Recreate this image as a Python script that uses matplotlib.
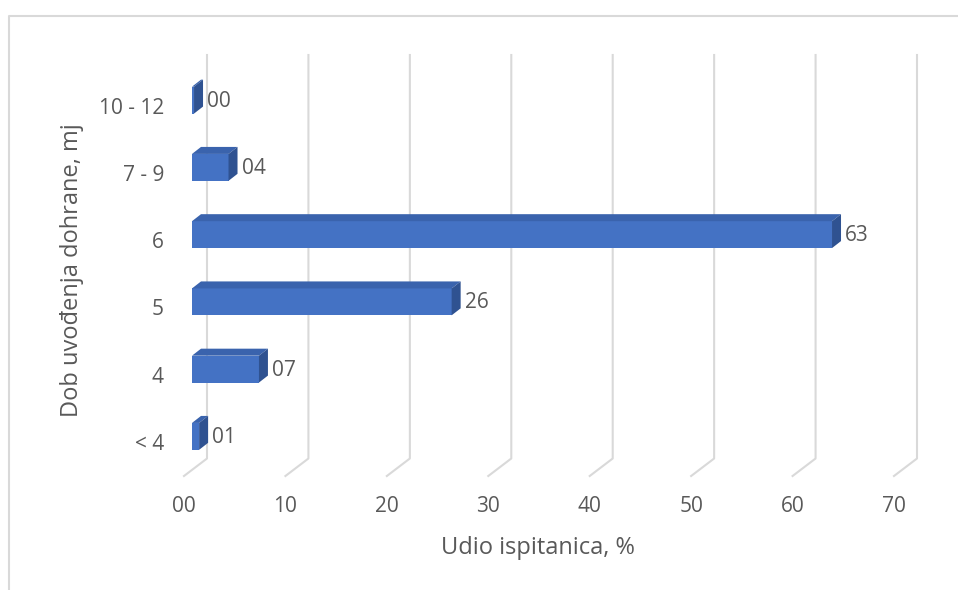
import matplotlib
matplotlib.use('Agg')
import matplotlib.pyplot as plt
from matplotlib.patches import Polygon
from matplotlib.transforms import IdentityTransform

# data
categories = ['< 4', '4', '5', '6', '7 - 9', '10 - 12']
values = [0.7, 6.6, 25.6, 63.1, 3.6, 0.2]
x_ticks = [0, 10, 20, 30, 40, 50, 60, 70]
x_title = 'Udio ispitanica, %'
y_title = 'Dob uvođenja dohrane, mj'

front_col = '#4472c4'
top_col = '#3a63ad'
side_col = '#2f5291'
grid_col = '#d9d9d9'
text_col = '#595959'

plt.rcParams['font.family'] = ['Open Sans', 'DejaVu Sans']

fig = plt.figure(figsize=(9.58, 5.90), dpi=100)
ax = fig.add_axes([192/958, 120/590, 710/958, 403.5/590])
ax.set_xlim(0, 70)
ax.set_ylim(-0.5, len(categories) - 0.5)
ax.axis('off')

ident = IdentityTransform()
# oblique offsets (display px) of the fake 3D depth
bar_d = (9, 7)
wall_d = (15, 11.5)
floor_d = (-8, -6)

def px(x, y, d=(0, 0)):
    p = ax.transData.transform((x, y))
    return (p[0] + d[0], p[1] + d[1])

# chart border (top and left only visible)
ax.plot([9, 9, 958], [0, 574, 574], color=grid_col, lw=1.5, transform=ident, clip_on=False)

y0, y1 = -0.5, len(categories) - 0.5
for v in x_ticks:
    f = px(v, y0, floor_d)
    b = px(v, y0, wall_d)
    t = px(v, y1, wall_d)
    ax.plot([f[0], b[0], t[0]], [f[1], b[1], t[1]], color=grid_col, lw=1.5,
            transform=ident, clip_on=False, zorder=1)
    ax.text(f[0], f[1] - 31, '%02d' % v, ha='center', va='center', fontsize=15,
            color=text_col, transform=ident)

h = 0.2
for i, v in enumerate(values):
    fl = px(0, i - h)
    fr = px(v, i - h)
    tr = px(v, i + h)
    tl = px(0, i + h)
    sh = lambda p: (p[0] + bar_d[0], p[1] + bar_d[1])
    ax.add_patch(Polygon([fl, fr, tr, tl], closed=True, fc=front_col, ec='none',
                         transform=ident, clip_on=False, zorder=3))
    ax.add_patch(Polygon([tl, tr, sh(tr), sh(tl)], closed=True, fc=top_col, ec='none',
                         transform=ident, clip_on=False, zorder=3))
    ax.add_patch(Polygon([fr, sh(fr), sh(tr), tr], closed=True, fc=side_col, ec='none',
                         transform=ident, clip_on=False, zorder=3))
    ax.text(tr[0] + bar_d[0] + 4, (fr[1] + tr[1]) / 2 - 1, '%02.0f' % v, ha='left', va='center',
            fontsize=15, color=text_col, transform=ident)

for i, c in enumerate(categories):
    p = px(0, i, floor_d)
    ax.text(p[0] - 20, p[1] - 2, c, ha='right', va='center', fontsize=15,
            color=text_col, transform=ident)

ax.text(538, 590 - 548, x_title, ha='center', va='center', fontsize=17,
        color=text_col, transform=ident)
ax.text(72, 590 - 270, y_title, ha='center', va='center', rotation=90, fontsize=17,
        color=text_col, transform=ident)

fig.savefig('out.png', dpi=100)
